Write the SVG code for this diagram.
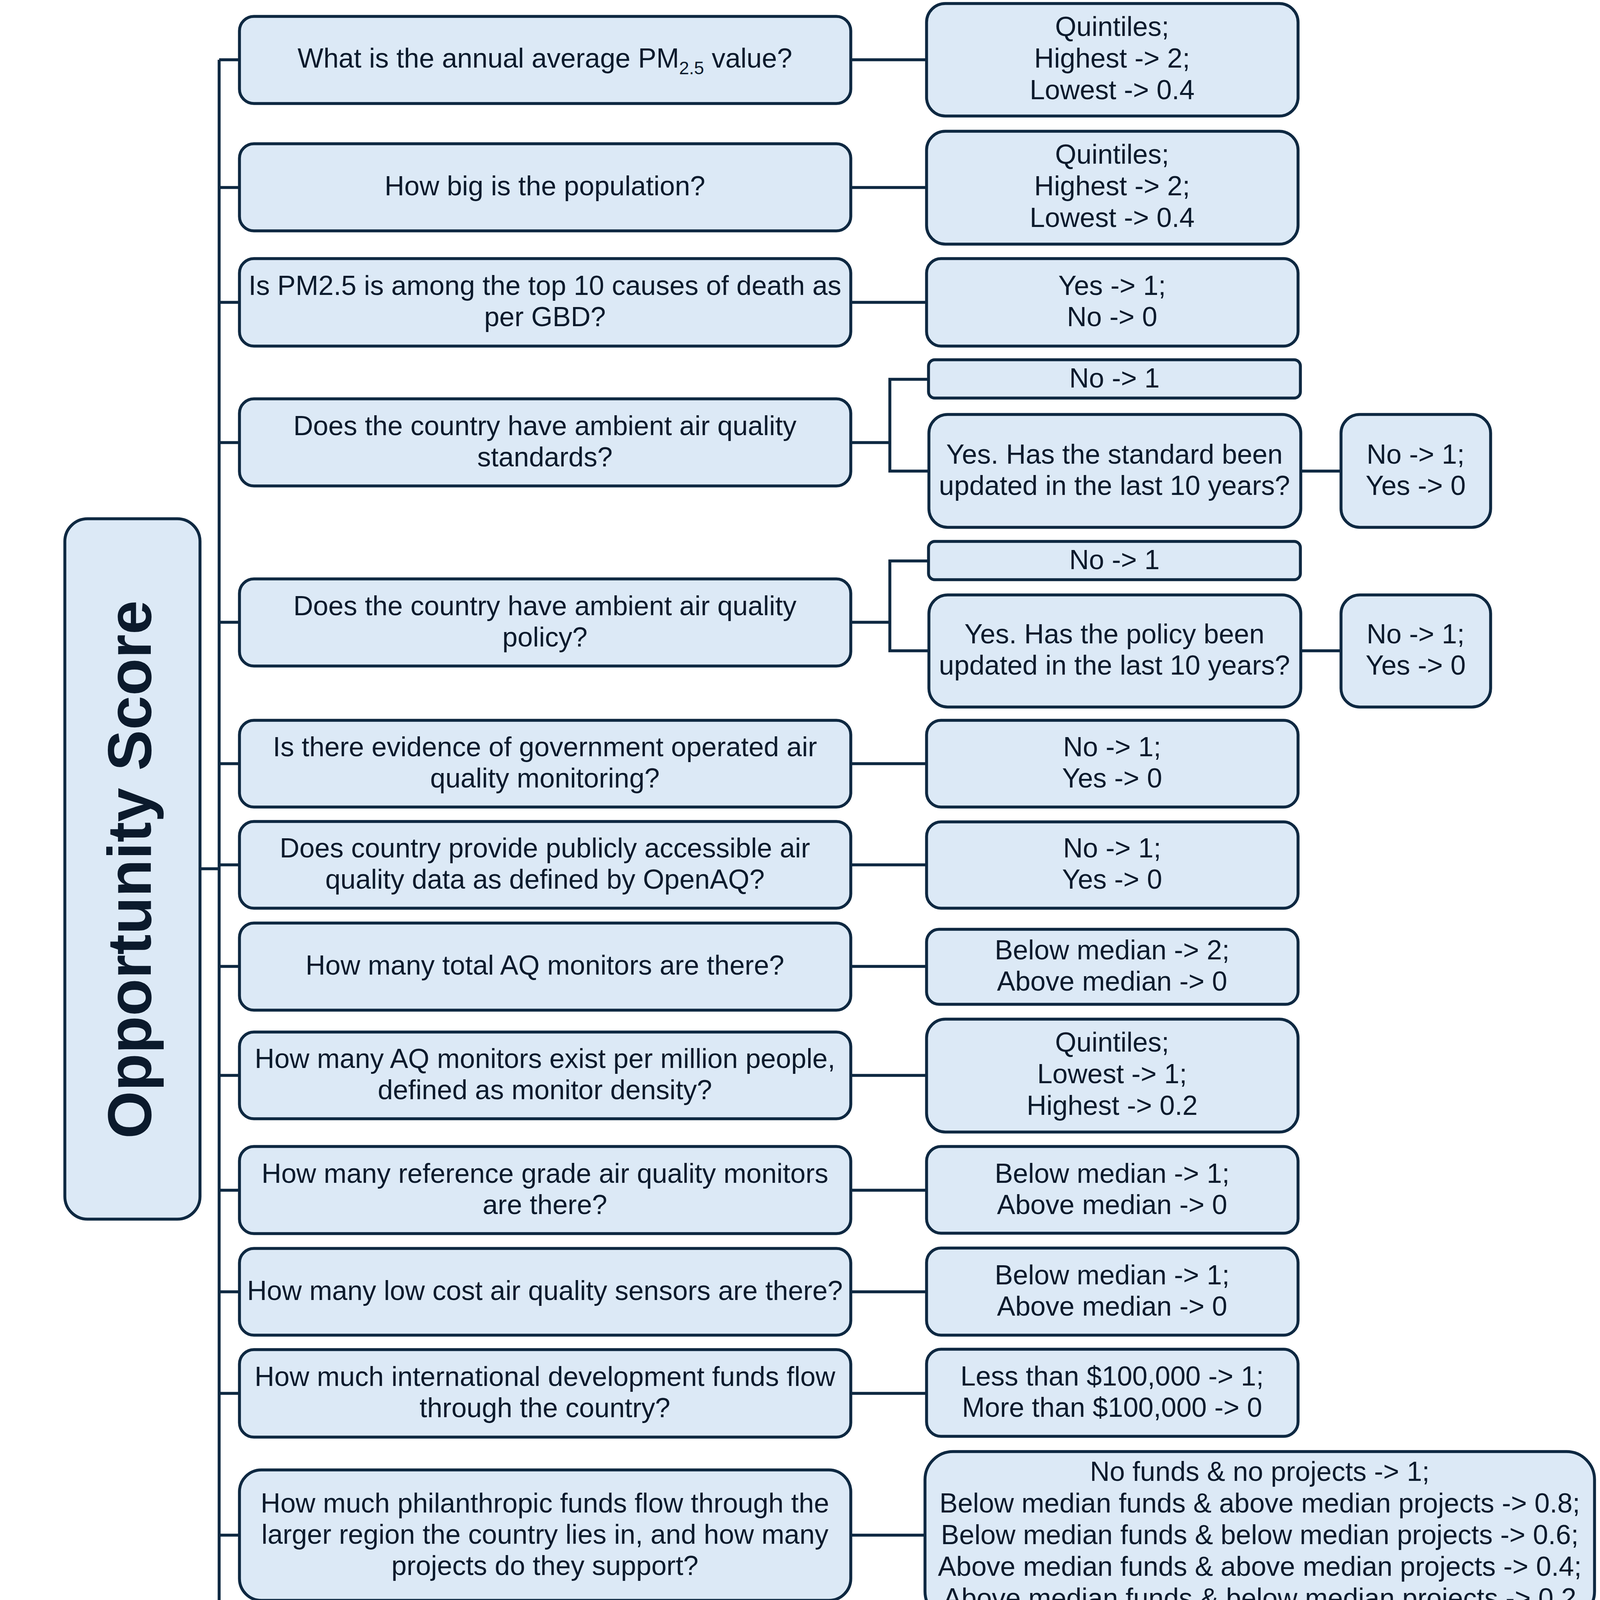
<svg xmlns="http://www.w3.org/2000/svg" width="4161" height="4427" viewBox="0 0 4161 4427">
<style>
.box{fill:#DCE9F6;stroke:#0E2841;stroke-width:7.5}
.ln{fill:none;stroke:#0E2841;stroke-width:7.5}
text{font-family:"Liberation Sans",Arial,sans-serif;font-size:70px;fill:#0B1A2C;text-anchor:middle}
.title{font-weight:bold;font-size:157px}
</style>
<rect width="4161" height="4427" fill="#FFFFFF"/>
<g id="connectors" class="ln">
<path d="M561,153 V4295"/>
<path d="M512,2224 H561"/>
<path d="M561,153 H613 M561,480 H613 M561,774 H613 M561,1133 H613 M561,1593 H613 M561,1955 H613 M561,2214 H613 M561,2474 H613 M561,2753 H613 M561,3047 H613 M561,3307 H613 M561,3567 H613 M561,3930 H613 M561,4295 H613"/>
<path d="M2178,153 H2372 M2178,480 H2372 M2178,774 H2372 M2178,1955 H2372 M2178,2214 H2372 M2178,2474 H2372 M2178,2753 H2372 M2178,3047 H2372 M2178,3307 H2372 M2178,3567 H2372 M2178,3930 H2368 M2178,4295 H2372"/>
<path d="M2178,1133 H2278 M2377,971 H2278 V1206 H2378"/>
<path d="M2178,1593 H2278 M2377,1436 H2278 V1666 H2378"/>
<path d="M3330,1206 H3433 M3330,1666 H3433"/>
</g>
<g id="opportunity">
<rect class="box" x="166" y="1328" width="346" height="1793" rx="58"/>
<text class="title" transform="translate(386,2226) rotate(-90)">Opportunity Score</text>
</g>
<g id="q1"><rect class="box" x="613" y="42" width="1565" height="223" rx="37"/>
<text x="1395" y="173">What is the annual average PM<tspan font-size="46" dy="17">2.5</tspan><tspan dy="-17"> value?</tspan></text></g>
<g id="q2"><rect class="box" x="613" y="368" width="1565" height="223" rx="37"/>
<text x="1395" y="500">How big is the population?</text></g>
<g id="q3"><rect class="box" x="613" y="662" width="1565" height="224" rx="37"/>
<text x="1395" y="755">Is PM2.5 is among the top 10 causes of death as</text><text x="1395" y="835">per GBD?</text></g>
<g id="q4"><rect class="box" x="613" y="1021" width="1565" height="223" rx="37"/>
<text x="1395" y="1114">Does the country have ambient air quality</text><text x="1395" y="1194">standards?</text></g>
<g id="q5"><rect class="box" x="613" y="1482" width="1565" height="223" rx="37"/>
<text x="1395" y="1575">Does the country have ambient air quality</text><text x="1395" y="1655">policy?</text></g>
<g id="q6"><rect class="box" x="613" y="1844" width="1565" height="222" rx="37"/>
<text x="1395" y="1936">Is there evidence of government operated air</text><text x="1395" y="2016">quality monitoring?</text></g>
<g id="q7"><rect class="box" x="613" y="2103" width="1565" height="222" rx="37"/>
<text x="1395" y="2195">Does country provide publicly accessible air</text><text x="1395" y="2275">quality data as defined by OpenAQ?</text></g>
<g id="q8"><rect class="box" x="613" y="2363" width="1565" height="223" rx="37"/>
<text x="1395" y="2495">How many total AQ monitors are there?</text></g>
<g id="q9"><rect class="box" x="613" y="2642" width="1565" height="222" rx="37"/>
<text x="1395" y="2734">How many AQ monitors exist per million people,</text><text x="1395" y="2814">defined as monitor density?</text></g>
<g id="q10"><rect class="box" x="613" y="2935" width="1565" height="223" rx="37"/>
<text x="1395" y="3028">How many reference grade air quality monitors</text><text x="1395" y="3108">are there?</text></g>
<g id="q11"><rect class="box" x="613" y="3196" width="1565" height="222" rx="37"/>
<text x="1395" y="3328">How many low cost air quality sensors are there?</text></g>
<g id="q12"><rect class="box" x="613" y="3455" width="1565" height="224" rx="37"/>
<text x="1395" y="3548">How much international development funds flow</text><text x="1395" y="3628">through the country?</text></g>
<g id="q13"><rect class="box" x="613" y="3763" width="1565" height="334" rx="56"/>
<text x="1395" y="3872">How much philanthropic funds flow through the</text><text x="1395" y="3952">larger region the country lies in, and how many</text><text x="1395" y="4032">projects do they support?</text></g>
<g id="q14"><rect class="box" x="613" y="4183" width="1565" height="223" rx="37"/>
<text x="1395" y="4276">Is there a country response in the EPIC AQ Fund</text><text x="1395" y="4356">CFP or 2023 registry?</text></g>
<g id="a1"><rect class="box" x="2372" y="9" width="951" height="288" rx="48"/>
<text x="2847" y="92">Quintiles;</text><text x="2847" y="173">Highest -&gt; 2;</text><text x="2847" y="254">Lowest -&gt; 0.4</text></g>
<g id="a2"><rect class="box" x="2372" y="336" width="951" height="289" rx="48"/>
<text x="2847" y="419">Quintiles;</text><text x="2847" y="500">Highest -&gt; 2;</text><text x="2847" y="581">Lowest -&gt; 0.4</text></g>
<g id="a3"><rect class="box" x="2372" y="662" width="951" height="224" rx="37"/>
<text x="2847" y="755">Yes -&gt; 1;</text><text x="2847" y="835">No -&gt; 0</text></g>
<g id="a4-no"><rect class="box" x="2377" y="921" width="952" height="98" rx="16"/>
<text x="2853" y="992">No -&gt; 1</text></g>
<g id="a4-yes"><rect class="box" x="2378" y="1061" width="952" height="289" rx="48"/>
<text x="2853" y="1187">Yes. Has the standard been</text><text x="2853" y="1267">updated in the last 10 years?</text></g>
<g id="a4-sub"><rect class="box" x="3433" y="1061" width="383" height="289" rx="48"/>
<text x="3624" y="1187">No -&gt; 1;</text><text x="3624" y="1267">Yes -&gt; 0</text></g>
<g id="a5-no"><rect class="box" x="2377" y="1386" width="952" height="98" rx="16"/>
<text x="2853" y="1457">No -&gt; 1</text></g>
<g id="a5-yes"><rect class="box" x="2378" y="1523" width="952" height="287" rx="48"/>
<text x="2853" y="1647">Yes. Has the policy been</text><text x="2853" y="1727">updated in the last 10 years?</text></g>
<g id="a5-sub"><rect class="box" x="3433" y="1523" width="383" height="287" rx="48"/>
<text x="3624" y="1647">No -&gt; 1;</text><text x="3624" y="1727">Yes -&gt; 0</text></g>
<g id="a6"><rect class="box" x="2372" y="1844" width="951" height="222" rx="37"/>
<text x="2847" y="1936">No -&gt; 1;</text><text x="2847" y="2016">Yes -&gt; 0</text></g>
<g id="a7"><rect class="box" x="2372" y="2104" width="951" height="221" rx="37"/>
<text x="2847" y="2195">No -&gt; 1;</text><text x="2847" y="2275">Yes -&gt; 0</text></g>
<g id="a8"><rect class="box" x="2372" y="2379" width="951" height="192" rx="32"/>
<text x="2847" y="2456">Below median -&gt; 2;</text><text x="2847" y="2536">Above median -&gt; 0</text></g>
<g id="a9"><rect class="box" x="2372" y="2609" width="951" height="289" rx="48"/>
<text x="2847" y="2692">Quintiles;</text><text x="2847" y="2773">Lowest -&gt; 1;</text><text x="2847" y="2854">Highest -&gt; 0.2</text></g>
<g id="a10"><rect class="box" x="2372" y="2935" width="951" height="222" rx="37"/>
<text x="2847" y="3028">Below median -&gt; 1;</text><text x="2847" y="3108">Above median -&gt; 0</text></g>
<g id="a11"><rect class="box" x="2372" y="3195" width="951" height="223" rx="37"/>
<text x="2847" y="3288">Below median -&gt; 1;</text><text x="2847" y="3368">Above median -&gt; 0</text></g>
<g id="a12"><rect class="box" x="2372" y="3454" width="951" height="223" rx="37"/>
<text x="2847" y="3547">Less than $100,000 -&gt; 1;</text><text x="2847" y="3627">More than $100,000 -&gt; 0</text></g>
<g id="a13"><rect class="box" x="2368" y="3716" width="1714" height="430" rx="72"/>
<text x="3225" y="3791">No funds &amp; no projects -&gt; 1;</text><text x="3225" y="3872">Below median funds &amp; above median projects -&gt; 0.8;</text><text x="3225" y="3953">Below median funds &amp; below median projects -&gt; 0.6;</text><text x="3225" y="4034">Above median funds &amp; above median projects -&gt; 0.4;</text><text x="3225" y="4115">Above median funds &amp; below median projects -&gt; 0.2</text></g>
<g id="a14"><rect class="box" x="2372" y="4184" width="951" height="220" rx="37"/>
<text x="2847" y="4276">Yes -&gt; 1;</text><text x="2847" y="4356">No -&gt; 0</text></g>
</svg>
